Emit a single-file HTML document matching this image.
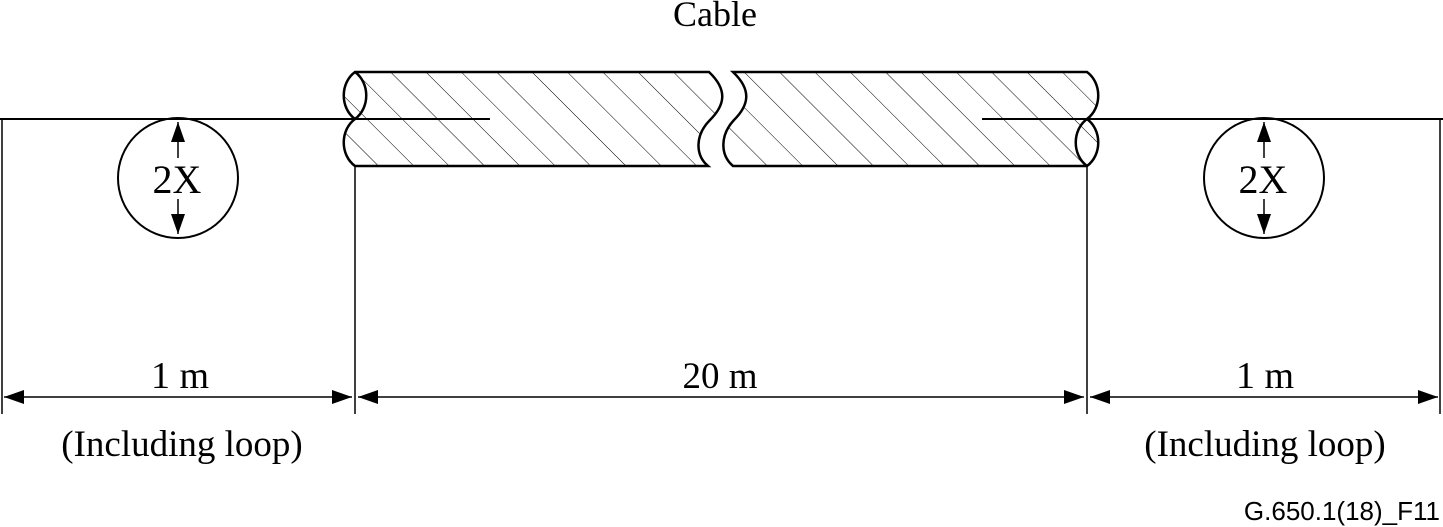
<!DOCTYPE html>
<html><head><meta charset="utf-8"><style>
html,body{margin:0;padding:0;background:#fff;}
svg{display:block;}
text{font-family:"Liberation Serif",serif;fill:#000;}
</style></head><body>
<svg width="1443" height="527" viewBox="0 0 1443 527" xmlns="http://www.w3.org/2000/svg">
<defs>
<pattern id="hatch" patternUnits="userSpaceOnUse" width="25" height="25" patternTransform="rotate(-45)">
<line x1="0" y1="0" x2="0" y2="25" stroke="#000" stroke-width="1"/>
</pattern>
<marker id="ah" markerWidth="20" markerHeight="14" refX="20" refY="7" orient="auto-start-reverse" markerUnits="userSpaceOnUse">
<path d="M0,0 L20,7 L0,14 Z" fill="#000"/>
</marker>
</defs>

<text x="715" y="26" font-size="36" text-anchor="middle">Cable</text>

<line x1="0" y1="119" x2="490" y2="119" stroke="#000" stroke-width="2"/>
<line x1="982" y1="119" x2="1443" y2="119" stroke="#000" stroke-width="2"/>

<path d="M355,72 L709,72 C728,90 725,105 710,120 C695,135 695,155 708,166 L355,166 C340,155 340,130 355,119 C340,108 340,83 355,72 Z" fill="url(#hatch)" stroke="#000" stroke-width="2.5"/>
<path d="M355,72 C370,83 370,108 355,119" fill="none" stroke="#000" stroke-width="2.5"/>
<path d="M733,72 L1087,72 C1102,83 1102,108 1087,119 C1102,130 1102,155 1087,166 L733,166 C720,155 720,135 734,120 C749,105 752,90 733,72 Z" fill="url(#hatch)" stroke="#000" stroke-width="2.5"/>
<path d="M1087,119 C1072,130 1072,155 1087,166" fill="none" stroke="#000" stroke-width="2.5"/>
<line x1="355" y1="119" x2="490" y2="119" stroke="#000" stroke-width="2"/>
<line x1="982" y1="119" x2="1087" y2="119" stroke="#000" stroke-width="2"/>

<g>
<circle cx="178" cy="178" r="60" fill="none" stroke="#000" stroke-width="2"/>
<line x1="178" y1="158" x2="178" y2="122" stroke="#000" stroke-width="1.5" marker-end="url(#ah)"/>
<line x1="178" y1="199" x2="178" y2="234" stroke="#000" stroke-width="1.5" marker-end="url(#ah)"/>
<text x="177" y="193" font-size="40" text-anchor="middle">2X</text>
</g>
<g>
<circle cx="1264" cy="178" r="60" fill="none" stroke="#000" stroke-width="2"/>
<line x1="1264" y1="158" x2="1264" y2="122" stroke="#000" stroke-width="1.5" marker-end="url(#ah)"/>
<line x1="1264" y1="199" x2="1264" y2="234" stroke="#000" stroke-width="1.5" marker-end="url(#ah)"/>
<text x="1263" y="193" font-size="40" text-anchor="middle">2X</text>
</g>

<g stroke="#000" stroke-width="1.5">
<line x1="2" y1="119" x2="2" y2="414"/>
<line x1="355" y1="166" x2="355" y2="414"/>
<line x1="1087" y1="166" x2="1087" y2="414"/>
<line x1="1440" y1="119" x2="1440" y2="414"/>
</g>

<g stroke="#000" stroke-width="1.5">
<line x1="4" y1="397" x2="352" y2="397" marker-start="url(#ah)" marker-end="url(#ah)"/>
<line x1="358" y1="397" x2="1084" y2="397" marker-start="url(#ah)" marker-end="url(#ah)"/>
<line x1="1090" y1="397" x2="1438" y2="397" marker-start="url(#ah)" marker-end="url(#ah)"/>
</g>

<text x="180" y="388" font-size="38" text-anchor="middle">1 m</text>
<text x="720" y="388" font-size="37" text-anchor="middle">20 m</text>
<text x="1265" y="388" font-size="38" text-anchor="middle">1 m</text>
<text x="182" y="456" font-size="37" text-anchor="middle">(Including loop)</text>
<text x="1265" y="456" font-size="37" text-anchor="middle">(Including loop)</text>
<text x="1440" y="520" font-size="26" text-anchor="end" style="font-family:'Liberation Sans',sans-serif">G.650.1(18)_F11</text>
</svg>
</body></html>
